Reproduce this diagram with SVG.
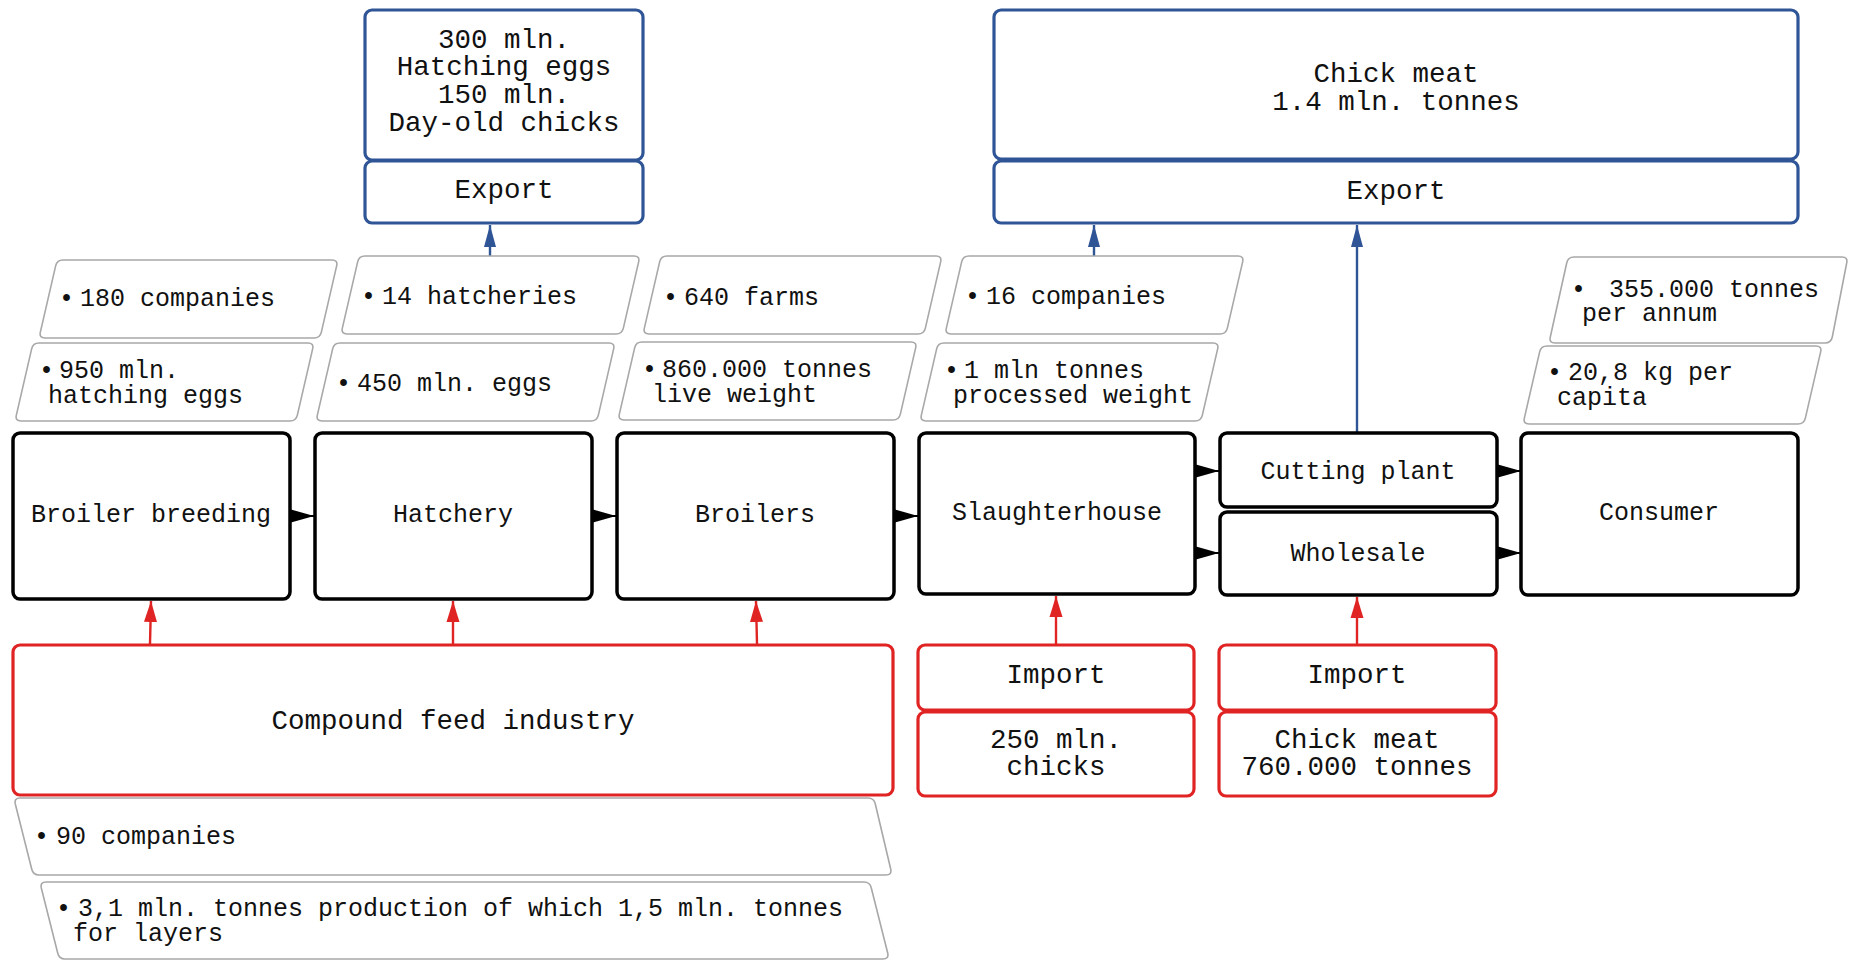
<svg xmlns="http://www.w3.org/2000/svg" width="1849" height="960" viewBox="0 0 1849 960">
  <style>
    text { font-family: "Liberation Mono", "DejaVu Sans Mono", monospace; fill: #111; }
    .t25 { font-size: 25px; }
    .t27 { font-size: 27.5px; }
    .c { text-anchor: middle; }
    .box { fill: #fff; stroke: #000; stroke-width: 3.5; }
    .red { fill: #fff; stroke: #e02424; stroke-width: 3.2; }
    .blue { fill: #fff; stroke: #2f5597; stroke-width: 3.2; }
    .note { fill: #fff; stroke: #a8a8a8; stroke-width: 1.6; }
    .ck { stroke: #000; stroke-width: 2; fill: none; }
    .cr { stroke: #e02424; stroke-width: 2.4; fill: none; }
    .cb { stroke: #2f5597; stroke-width: 2.4; fill: none; }
  </style>
  <defs>
    <!-- note shape: top edge shifted right of bottom edge -->
    <path id="noteL" d="M24,0 L293,0 Q299,0 297.65,5.85 L282.35,72.15 Q281,78 275,78 L6,78 Q0,78 1.35,72.15 L16.65,5.85 Q18,0 24,0 Z"/>
    <marker id="ahK" markerUnits="userSpaceOnUse" markerWidth="23" markerHeight="14" refX="23" refY="7" orient="auto">
      <path d="M0,0.5 L23,7 L0,13.5 Z" fill="#000"/>
    </marker>
    <marker id="ahR" markerUnits="userSpaceOnUse" markerWidth="21" markerHeight="14" refX="21" refY="7" orient="auto">
      <path d="M0,0.5 L21,7 L0,13.5 Z" fill="#e02424"/>
    </marker>
    <marker id="ahB" markerUnits="userSpaceOnUse" markerWidth="22" markerHeight="13" refX="22" refY="6.5" orient="auto">
      <path d="M0,0.5 L22,6.5 L0,12.5 Z" fill="#2f5597"/>
    </marker>
  </defs>

  <!-- connectors -->
  <g id="connectors">
    <line class="ck" x1="290" y1="516" x2="314" y2="516" marker-end="url(#ahK)"/>
    <line class="ck" x1="592" y1="516" x2="616" y2="516" marker-end="url(#ahK)"/>
    <line class="ck" x1="894" y1="516" x2="918" y2="516" marker-end="url(#ahK)"/>
    <line class="ck" x1="1195" y1="471" x2="1219" y2="471" marker-end="url(#ahK)"/>
    <line class="ck" x1="1195" y1="553" x2="1219" y2="553" marker-end="url(#ahK)"/>
    <line class="ck" x1="1497" y1="471" x2="1521" y2="471" marker-end="url(#ahK)"/>
    <line class="ck" x1="1497" y1="553" x2="1521" y2="553" marker-end="url(#ahK)"/>

    <line class="cr" x1="150" y1="644" x2="151" y2="601" marker-end="url(#ahR)"/>
    <line class="cr" x1="453" y1="644" x2="453" y2="601" marker-end="url(#ahR)"/>
    <line class="cr" x1="757" y1="644" x2="756" y2="601" marker-end="url(#ahR)"/>
    <line class="cr" x1="1056" y1="644" x2="1056" y2="596" marker-end="url(#ahR)"/>
    <line class="cr" x1="1357" y1="644" x2="1357" y2="597" marker-end="url(#ahR)"/>

    <line class="cb" x1="490" y1="256" x2="490" y2="225" marker-end="url(#ahB)"/>
    <line class="cb" x1="1094" y1="256" x2="1094" y2="225" marker-end="url(#ahB)"/>
    <line class="cb" x1="1357" y1="432" x2="1357" y2="225" marker-end="url(#ahB)"/>
  </g>

  <!-- export boxes -->
  <g id="export-hatchery">
    <rect class="blue" x="365" y="10" width="278" height="150" rx="7"/>
    <rect class="blue" x="365" y="161" width="278" height="62" rx="7"/>
    <text class="t27 c"><tspan x="504" y="48">300 mln.</tspan><tspan x="504" y="75">Hatching eggs</tspan><tspan x="504" y="103">150 mln.</tspan><tspan x="504" y="131">Day-old chicks</tspan></text>
    <text class="t27 c" x="504" y="198">Export</text>
  </g>
  <g id="export-meat">
    <rect class="blue" x="994" y="10" width="804" height="149" rx="7"/>
    <rect class="blue" x="994" y="161" width="804" height="62" rx="7"/>
    <text class="t27 c"><tspan x="1396" y="82">Chick meat</tspan><tspan x="1396" y="110">1.4 mln. tonnes</tspan></text>
    <text class="t27 c" x="1396" y="199">Export</text>
  </g>

  <!-- figure notes -->
  <g id="note-breeding-companies">
    <use href="#noteL" class="note" transform="translate(39,260)"/>
    <text class="t25"><tspan x="59" y="306">•</tspan><tspan x="80" y="306">180 companies</tspan></text>
  </g>
  <g id="note-breeding-eggs">
    <use href="#noteL" class="note" transform="translate(15,343)"/>
    <text class="t25"><tspan x="39" y="378">•</tspan><tspan x="59" y="378">950 mln.</tspan><tspan x="48" y="403">hatching eggs</tspan></text>
  </g>
  <g id="note-hatcheries">
    <use href="#noteL" class="note" transform="translate(341,256)"/>
    <text class="t25"><tspan x="361" y="304">•</tspan><tspan x="382" y="304">14 hatcheries</tspan></text>
  </g>
  <g id="note-hatchery-eggs">
    <use href="#noteL" class="note" transform="translate(316,343)"/>
    <text class="t25"><tspan x="336" y="391">•</tspan><tspan x="357" y="391">450 mln. eggs</tspan></text>
  </g>
  <g id="note-farms">
    <use href="#noteL" class="note" transform="translate(643,256)"/>
    <text class="t25"><tspan x="663" y="305">•</tspan><tspan x="684" y="305">640 farms</tspan></text>
  </g>
  <g id="note-live-weight">
    <use href="#noteL" class="note" transform="translate(618,342)"/>
    <text class="t25"><tspan x="642" y="377">•</tspan><tspan x="662" y="377">860.000 tonnes</tspan><tspan x="652" y="402">live weight</tspan></text>
  </g>
  <g id="note-slaughter-companies">
    <use href="#noteL" class="note" transform="translate(945,256)"/>
    <text class="t25"><tspan x="965" y="304">•</tspan><tspan x="986" y="304">16 companies</tspan></text>
  </g>
  <g id="note-processed">
    <use href="#noteL" class="note" transform="translate(920,343)"/>
    <text class="t25"><tspan x="944" y="378">•</tspan><tspan x="964" y="378">1 mln tonnes</tspan><tspan x="953" y="403">processed weight</tspan></text>
  </g>
  <g id="note-annual">
    <path class="note" d="M1574,257 L1842,257 Q1848,257 1846.7,263 L1832.3,337 Q1831,343 1825,343 L1555,343 Q1549,343 1550.3,337 L1566.7,263 Q1568,257 1574,257 Z"/>
    <text class="t25"><tspan x="1571" y="297">•</tspan><tspan x="1609" y="297">355.000 tonnes</tspan><tspan x="1582" y="321">per annum</tspan></text>
  </g>
  <g id="note-capita">
    <use href="#noteL" class="note" transform="translate(1523,346)"/>
    <text class="t25"><tspan x="1547" y="380">•</tspan><tspan x="1568" y="380">20,8 kg per</tspan><tspan x="1557" y="405">capita</tspan></text>
  </g>

  <!-- chain stages -->
  <g id="broiler-breeding">
    <rect class="box" x="13" y="433" width="277" height="166" rx="7"/>
    <text class="t25 c" x="151" y="522">Broiler breeding</text>
  </g>
  <g id="hatchery">
    <rect class="box" x="315" y="433" width="277" height="166" rx="7"/>
    <text class="t25 c" x="453" y="522">Hatchery</text>
  </g>
  <g id="broilers">
    <rect class="box" x="617" y="433" width="277" height="166" rx="7"/>
    <text class="t25 c" x="755" y="522">Broilers</text>
  </g>
  <g id="slaughterhouse">
    <rect class="box" x="919" y="433" width="276" height="161" rx="7"/>
    <text class="t25 c" x="1057" y="520">Slaughterhouse</text>
  </g>
  <g id="cutting-plant">
    <rect class="box" x="1220" y="433" width="277" height="74" rx="7"/>
    <text class="t25 c" x="1358" y="479">Cutting plant</text>
  </g>
  <g id="wholesale">
    <rect class="box" x="1220" y="512" width="277" height="83" rx="7"/>
    <text class="t25 c" x="1358" y="561">Wholesale</text>
  </g>
  <g id="consumer">
    <rect class="box" x="1521" y="433" width="277" height="162" rx="7"/>
    <text class="t25 c" x="1659" y="520">Consumer</text>
  </g>

  <!-- inputs -->
  <g id="compound-feed">
    <rect class="red" x="13" y="645" width="880" height="150" rx="7"/>
    <text class="t27 c" x="453" y="729">Compound feed industry</text>
  </g>
  <g id="import-chicks">
    <rect class="red" x="918" y="645" width="276" height="65" rx="7"/>
    <rect class="red" x="918" y="712" width="276" height="84" rx="7"/>
    <text class="t27 c" x="1056" y="683">Import</text>
    <text class="t27 c"><tspan x="1056" y="748">250 mln.</tspan><tspan x="1056" y="775">chicks</tspan></text>
  </g>
  <g id="import-meat">
    <rect class="red" x="1219" y="645" width="277" height="65" rx="7"/>
    <rect class="red" x="1219" y="712" width="277" height="84" rx="7"/>
    <text class="t27 c" x="1357" y="683">Import</text>
    <text class="t27 c"><tspan x="1357" y="748">Chick meat</tspan><tspan x="1357" y="775">760.000 tonnes</tspan></text>
  </g>

  <!-- feed notes: bottom edge shifted right of top edge -->
  <g id="note-feed-companies">
    <path class="note" d="M20,798 L868,798 Q874,798 875.3,804 L890.7,869 Q892,875 886,875 L39,875 Q33,875 31.7,869 L15.3,804 Q14,798 20,798 Z"/>
    <text class="t25"><tspan x="34" y="844">•</tspan><tspan x="56" y="844">90 companies</tspan></text>
  </g>
  <g id="note-feed-production">
    <path class="note" d="M46,882 L864,882 Q870,882 871.3,888 L887.7,953 Q889,959 883,959 L65,959 Q59,959 57.7,953 L41.3,888 Q40,882 46,882 Z"/>
    <text class="t25"><tspan x="56" y="916">•</tspan><tspan x="78" y="916">3,1 mln. tonnes production of which 1,5 mln. tonnes</tspan><tspan x="73" y="941">for layers</tspan></text>
  </g>
</svg>
